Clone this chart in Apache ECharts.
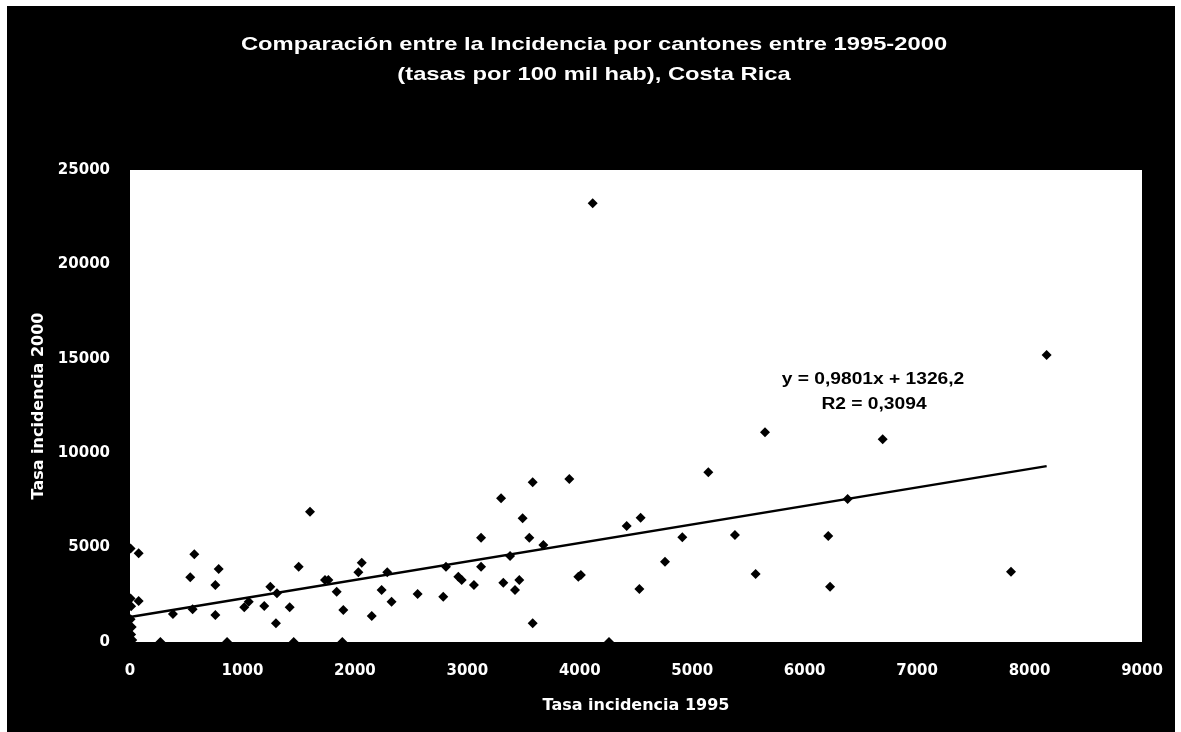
<!DOCTYPE html>
<html>
<head>
<meta charset="utf-8">
<script src="https://cdn.jsdelivr.net/npm/echarts@6/dist/echarts.min.js"></script>
<style>
html,body{margin:0;padding:0;background:#fff;}
#c{position:absolute;left:7px;top:6px;width:1168px;height:726px;}
</style>
</head>
<body>
<div id="c"></div>
<script>
// Incidence 1995 (x) vs 2000 (y), per canton
const incidencia1995 = [5,77,77,5,10,5,15,10,20,270,863,1456,1888,4260,382,557,536,572,759,759,789,1016,1056,1194,1248,1298,1307,1420,1500,1601,1734,1764,1838,1897,2031,2061,2150,2238,2288,2326,2558,2786,2810,2920,2950,3059,3122,3122,3300,3320,3380,3424,3462,3492,3551,3581,3581,3676,3907,3987,4010,4115,4417,4530,4541,4758,4912,5143,5380,5564,5647,6210,6226,6382,6694,7835,8152];
const incidencia2000 = [4950,4698,2172,2300,1900,1200,800,400,100,0,0,0,0,0,1483,1730,3425,4645,3019,1430,3866,1836,2136,1907,2930,990,2577,1836,3990,6902,3284,3284,2666,1695,3691,4202,1377,2754,3691,2136,2542,2401,3990,3460,3284,3019,3990,5525,7610,3143,4555,2754,3284,6552,5525,8458,990,5138,8633,3460,3549,23236,6144,2807,6584,4253,5545,8988,5668,3602,11107,5614,2930,7574,10736,3725,15201];
// Linear trend shown on the chart
const trendCoef = [0.9801, 1326.2];   // slope, intercept
const trendRangeX = [0, 8152];
const xTicks = [0,1000,2000,3000,4000,5000,6000,7000,8000,9000];
const yTicks = [0,5000,10000,15000,20000,25000];
const titleLines = ['Comparación entre la Incidencia por cantones entre 1995-2000','(tasas por 100 mil hab), Costa Rica'];
const eqLines = ['y = 0,9801x + 1326,2','R2 = 0,3094'];

const pts = incidencia1995.map((x,i)=>[x, incidencia2000[i]]);
const trend = trendRangeX.map(x=>[x, trendCoef[0]*x + trendCoef[1]]);
const font = '"Liberation Sans", Arial, sans-serif';
const wide = '"DejaVu Sans", sans-serif';

function stretchedText(txt, cx, cy, size, sx, color){
  return {type:'text', x:cx, y:cy, scaleX:sx, silent:true,
    style:{text:txt, x:0, y:0, fill:color, font:'bold '+size+'px '+font, align:'center', verticalAlign:'middle'}};
}

const chart = echarts.init(document.getElementById('c'));
chart.setOption({
  backgroundColor: '#000',
  animation: false,
  grid: {left:123, right:33, top:164, bottom:90, show:true, backgroundColor:'#fff', borderWidth:0},
  xAxis: {
    type:'value', min:xTicks[0], max:xTicks[xTicks.length-1], interval:1000,
    name:'Tasa incidencia 1995', nameLocation:'middle', nameGap:56,
    nameTextStyle:{color:'#fff', fontFamily:wide, fontSize:16, fontWeight:'bold'},
    axisLine:{show:false}, axisTick:{show:false}, splitLine:{show:false},
    axisLabel:{color:'#fff', fontFamily:wide, fontSize:15, fontWeight:'bold', margin:22, formatter:v=>String(v)}
  },
  yAxis: {
    type:'value', min:yTicks[0], max:yTicks[yTicks.length-1], interval:5000,
    name:'Tasa incidencia 2000', nameLocation:'middle', nameGap:33,
    nameTextStyle:{color:'#fff', fontFamily:wide, fontSize:16, fontWeight:'bold'},
    axisLine:{show:false}, axisTick:{show:false}, splitLine:{show:false},
    axisLabel:{color:'#fff', fontFamily:wide, fontSize:15, fontWeight:'bold', margin:20, formatter:v=>String(v)}
  },
  graphic: [
    stretchedText(titleLines[0], 587, 39, 19, 1.25, '#fff'),
    stretchedText(titleLines[1], 587, 69, 19, 1.25, '#fff'),
    stretchedText(eqLines[0], 866, 374, 16, 1.2, '#000'),
    stretchedText(eqLines[1], 867, 399, 16, 1.2, '#000')
  ],
  series: [
    {type:'scatter', data:pts, symbol:'diamond', symbolSize:10, itemStyle:{color:'#000', opacity:1}, z:3},
    {type:'line', data:trend, symbol:'none', lineStyle:{color:'#000', width:2.5}, z:2}
  ]
});
</script>
</body>
</html>
